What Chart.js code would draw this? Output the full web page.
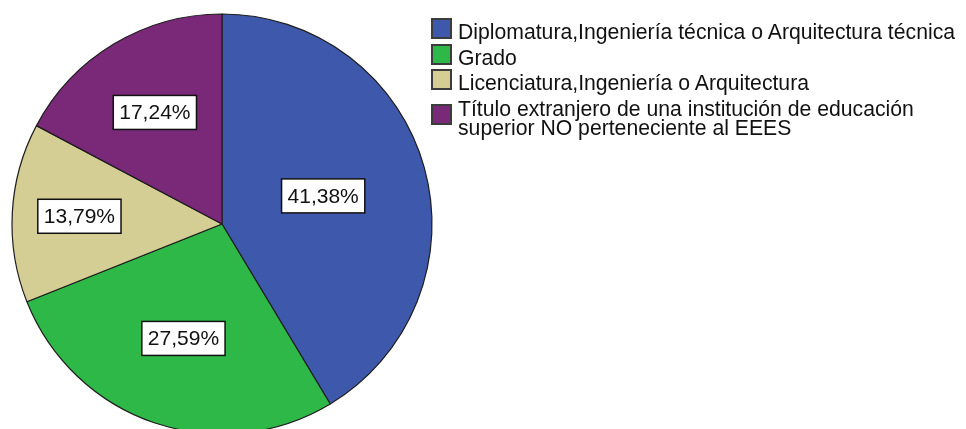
<!DOCTYPE html>
<html>
<head>
<meta charset="utf-8">
<script src="https://cdn.jsdelivr.net/npm/chart.js@4.4.0/dist/chart.umd.min.js"></script>
<style>
    html, body { margin: 0; padding: 0; background: #fff; overflow: hidden; }
    #wrap { position: relative; width: 966px; height: 429px; overflow: hidden; }
    #pieChart { position: absolute; left: 0; top: 0; }
    #legend {
        position: absolute; left: 431px; top: 22px;
        font-family: "Liberation Sans", Arial, sans-serif; font-size: 21.2px;
        line-height: 19px; color: #111;
    }
    .item { position: relative; padding-left: 27px; margin-bottom: 6.5px; white-space: nowrap; }
    .item:last-child { margin-top: 4.5px; }
    .box {
        position: absolute; left: 0; top: 50%; margin-top: -13.5px;
        width: 17px; height: 17px; border: 2px solid #3c3c3c;
    }
</style>
</head>
<body>
<div id="wrap">
    <canvas id="pieChart" width="444" height="448"></canvas>
    <div id="legend"></div>
</div>
<script>
// Categorías y recuentos (porcentajes calculados sobre el total)
var categorias = [
    'Diplomatura,Ingeniería técnica o Arquitectura técnica',
    'Grado',
    'Licenciatura,Ingeniería o Arquitectura',
    'Título extranjero de una institución de educación<br>superior NO perteneciente al EEES'
];
var recuentos = [12, 8, 4, 5];
var colores = ['#3e58ac', '#2eb848', '#d4ce95', '#7a2878'];
// distancia relativa de cada etiqueta al centro
var radioEtiqueta = [0.50, 0.575, 0.68, 0.62];

var total = recuentos.reduce(function(a, b) { return a + b; }, 0);

// Etiquetas con caja blanca en cada sector
var etiquetasPlugin = {
    id: 'etiquetas',
    afterDatasetsDraw: function(chart) {
        var ctx = chart.ctx;
        var meta = chart.getDatasetMeta(0);
        ctx.save();
        ctx.font = '21px "Liberation Sans", Arial, sans-serif';
        ctx.textAlign = 'center';
        ctx.textBaseline = 'middle';
        meta.data.forEach(function(arc, i) {
            var p = arc.getProps(['x', 'y', 'startAngle', 'endAngle', 'outerRadius'], true);
            var mid = (p.startAngle + p.endAngle) / 2;
            var r = p.outerRadius * radioEtiqueta[i];
            var cx = p.x + Math.cos(mid) * r;
            var cy = p.y + Math.sin(mid) * r;
            var txt = (recuentos[i] / total * 100).toFixed(2).replace('.', ',') + '%';
            var w = ctx.measureText(txt).width + 12;
            var h = 34;
            ctx.fillStyle = '#fff';
            ctx.fillRect(cx - w / 2, cy - h / 2, w, h);
            ctx.lineWidth = 1.5;
            ctx.strokeStyle = '#111';
            ctx.strokeRect(cx - w / 2, cy - h / 2, w, h);
            ctx.fillStyle = '#111';
            ctx.fillText(txt, cx, cy + 1);
        });
        ctx.restore();
    }
};

var ctxPie = document.getElementById('pieChart').getContext('2d');
new Chart(ctxPie, {
    type: 'pie',
    data: {
        labels: categorias,
        datasets: [{
            data: recuentos,
            backgroundColor: colores,
            borderColor: '#1e1e1e',
            borderWidth: 1.2
        }]
    },
    options: {
        responsive: false,
        animation: false,
        devicePixelRatio: 1,
        radius: 210,
        layout: { padding: 0 },
        plugins: {
            legend: { display: false },
            tooltip: { enabled: false }
        }
    },
    plugins: [etiquetasPlugin]
});

// Leyenda
var legend = document.getElementById('legend');
categorias.forEach(function(cat, i) {
    var item = document.createElement('div');
    item.className = 'item';
    item.innerHTML = '<span class="box" style="background:' + colores[i] + '"></span>' + cat;
    legend.appendChild(item);
});
</script>
</body>
</html>
